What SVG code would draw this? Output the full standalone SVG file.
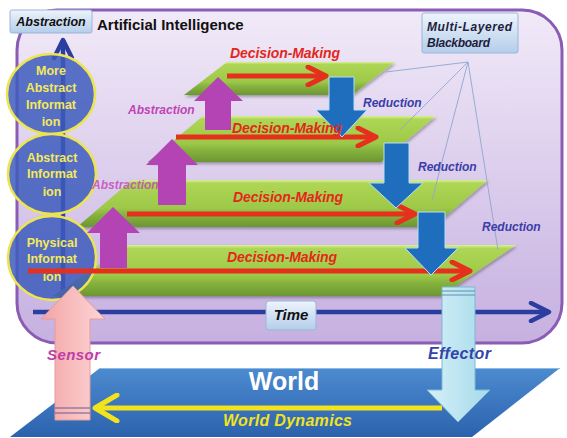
<svg xmlns="http://www.w3.org/2000/svg" width="567" height="438" viewBox="0 0 567 438">
  <defs>
    <linearGradient id="gFrame" x1="0" y1="0" x2="0" y2="1">
      <stop offset="0" stop-color="#f1eaf8"/>
      <stop offset="1" stop-color="#c6b0e0"/>
    </linearGradient>
    <linearGradient id="gLayer" x1="0" y1="0" x2="0" y2="1">
      <stop offset="0" stop-color="#dcf096"/>
      <stop offset="0.07" stop-color="#aed655"/>
      <stop offset="0.6" stop-color="#9dc848"/>
      <stop offset="0.74" stop-color="#86b33d"/>
      <stop offset="1" stop-color="#6b9632"/>
    </linearGradient>
    <linearGradient id="gLabel" x1="0" y1="0" x2="0" y2="1">
      <stop offset="0" stop-color="#eef4fc"/>
      <stop offset="1" stop-color="#b4cdea"/>
    </linearGradient>
    <linearGradient id="gWorld" x1="0" y1="0" x2="0" y2="1">
      <stop offset="0" stop-color="#4c8bd0"/>
      <stop offset="1" stop-color="#2c62ad"/>
    </linearGradient>
    <linearGradient id="gSensor" x1="0" y1="0" x2="1" y2="0">
      <stop offset="0" stop-color="#f4a4a6"/>
      <stop offset="1" stop-color="#fcd6d6"/>
    </linearGradient>
    <linearGradient id="gEffector" x1="0" y1="0" x2="1" y2="0">
      <stop offset="0" stop-color="#d4f0f8"/>
      <stop offset="1" stop-color="#a6daea"/>
    </linearGradient>
    <filter id="shadow" x="-5%" y="-10%" width="110%" height="130%">
      <feDropShadow dx="1" dy="2" stdDeviation="1.5" flood-color="#000" flood-opacity="0.3"/>
    </filter>
    <marker id="redHead" viewBox="0 0 24 22" refX="21" refY="11" markerWidth="24" markerHeight="22" markerUnits="userSpaceOnUse" orient="auto">
      <path d="M3,2 L21,11 L3,20" fill="none" stroke="#e5301d" stroke-width="5" stroke-linecap="round" stroke-linejoin="round"/>
    </marker>
    <marker id="axisHead" viewBox="0 0 24 22" refX="21" refY="11" markerWidth="24" markerHeight="22" markerUnits="userSpaceOnUse" orient="auto">
      <path d="M3,2 L21,11 L3,20" fill="none" stroke="#2b3ea0" stroke-width="4.5" stroke-linecap="round" stroke-linejoin="round"/>
    </marker>
    <marker id="yellowHead" viewBox="0 0 28 30" refX="25" refY="15" markerWidth="28" markerHeight="30" markerUnits="userSpaceOnUse" orient="auto">
      <path d="M3,2 L25,15 L3,28" fill="none" stroke="#f2e31c" stroke-width="5" stroke-linecap="round" stroke-linejoin="round"/>
    </marker>
  </defs>
  <style>
    text { font-family: "Liberation Sans", Arial, sans-serif; font-weight: bold; }
    .it { font-style: italic; }
    .layer { fill: url(#gLayer); filter: url(#shadow); }
    .circ { fill: #3d5cbc; fill-opacity: 0.85; stroke: #ece452; stroke-width: 2.5; }
    .ctext { fill: #f3e95a; font-size: 12.5px; text-anchor: middle; }
    .dm { fill: #e2281c; font-size: 14px; font-style: italic; text-anchor: middle; }
    .abs { fill: #c144b6; font-size: 12px; font-style: italic; }
    .red { fill: #3a3ea8; font-size: 12px; font-style: italic; }
    .flow { fill: none; stroke: #e5301d; stroke-width: 5; marker-end: url(#redHead); }
    .axis { fill: none; stroke: #2b3ea0; stroke-width: 4.5; marker-end: url(#axisHead); }
    .up { fill: #b443b4; }
    .down { fill: #1f6dbd; stroke: #b9def4; stroke-width: 1; }
    .bb { fill: none; stroke: #8ea6d0; stroke-width: 0.9; }
    .box { fill: url(#gLabel); stroke: #9bb5d8; stroke-width: 1; }
  </style>

  <!-- AI frame -->
  <g id="ai-frame">
    <rect x="17" y="10" width="545" height="333" rx="40" fill="url(#gFrame)" stroke="#8a5cb4" stroke-width="3"/>
    <text x="97" y="30" font-size="15" fill="#111">Artificial Intelligence</text>
  </g>

  <!-- axes -->
  <g id="axes">
    <path class="axis" d="M33,312 H549"/>
    <path class="axis" d="M63,312 V40"/>
  </g>

  <!-- blackboard layers -->
  <g id="layer-1"><polygon class="layer" points="227,62 395,62 352,95 184,95"/></g>
  <g id="layer-2"><polygon class="layer" points="203,116 436,116 381,162 148,162"/></g>
  <g id="layer-3"><polygon class="layer" points="132,180 488,180 433,227 77,227"/></g>
  <g id="layer-4"><polygon class="layer" points="128,245 516,245 441,296 53,296"/></g>

  <!-- information levels -->
  <g id="info-more-abstract">
    <ellipse class="circ" cx="51" cy="94" rx="44" ry="40"/>
    <text class="ctext" x="51" y="75">More</text>
    <text class="ctext" x="51" y="92">Abstract</text>
    <text class="ctext" x="51" y="109">Informat</text>
    <text class="ctext" x="51" y="126">ion</text>
  </g>
  <g id="info-abstract">
    <ellipse class="circ" cx="52" cy="174" rx="44" ry="40"/>
    <text class="ctext" x="52" y="162">Abstract</text>
    <text class="ctext" x="52" y="178">Informat</text>
    <text class="ctext" x="52" y="196">ion</text>
  </g>
  <g id="info-physical">
    <ellipse class="circ" cx="52" cy="258" rx="44" ry="42"/>
    <text class="ctext" x="52" y="247">Physical</text>
    <text class="ctext" x="52" y="263">Informat</text>
    <text class="ctext" x="52" y="281">ion</text>
  </g>

  <!-- connectors -->
  <g id="connectors">
    <!-- blackboard leader lines -->
    <path class="bb" d="M468,62 L386,72 M468,62 L400,130 M468,62 L432,200 M468,62 L498,250"/>
    <!-- decision-making flows -->
    <path class="flow" d="M227,76 H326"/>
    <path class="flow" d="M176,137 H376"/>
    <path class="flow" d="M127,214 H415"/>
    <path class="flow" d="M28,271 H470"/>
    <!-- abstraction arrows -->
    <polygon class="up" points="218,77 243,101 231,101 231,130 205,130 205,101 194,101"/>
    <polygon class="up" points="172,139 198,165 186,165 186,205 158,205 158,165 146,165"/>
    <polygon class="up" points="113,207 140,233 127,233 127,268 100,268 100,233 87,233"/>
    <!-- reduction arrows -->
    <polygon class="down" points="329,77 354,77 354,110 367,110 342,137 316,110 329,110"/>
    <polygon class="down" points="384,143 409,143 409,183 423,183 396,208 369,183 384,183"/>
    <polygon class="down" points="418,212 445,212 445,248 458,248 431,275 405,248 418,248"/>
  </g>

  <!-- labels on layers -->
  <g id="layer-labels">
    <text class="dm" x="285" y="58" textLength="110">Decision-Making</text>
    <text class="dm" x="287" y="133" textLength="110">Decision-Making</text>
    <text class="dm" x="288" y="202" textLength="110">Decision-Making</text>
    <text class="dm" x="282" y="262" textLength="110">Decision-Making</text>
    <text class="abs" x="128" y="114">Abstraction</text>
    <text class="abs" x="92" y="189" fill-opacity="0.8">Abstraction</text>
    <text class="red" x="363" y="107">Reduction</text>
    <text class="red" x="418" y="171">Reduction</text>
    <text class="red" x="482" y="231">Reduction</text>
  </g>

  <g id="abstraction-label">
    <rect class="box" x="10" y="10" width="82" height="23" rx="2"/>
    <text class="it" x="51" y="26" font-size="12.5" fill="#111" text-anchor="middle">Abstraction</text>
  </g>

  <g id="blackboard-label">
    <rect class="box" x="422" y="13" width="96" height="40" rx="2"/>
    <text class="it" x="427" y="31" font-size="12" fill="#1e1e3c" textLength="85">Multi-Layered</text>
    <text class="it" x="427" y="47" font-size="12" fill="#1e1e3c" textLength="63">Blackboard</text>
  </g>

  <g id="time-label">
    <rect class="box" x="266" y="301" width="50" height="29" rx="3"/>
    <text class="it" x="291" y="320" font-size="15" fill="#111" text-anchor="middle">Time</text>
  </g>

  <!-- world -->
  <g id="world">
    <polygon points="100,368 560,368 472,437 10,437" fill="url(#gWorld)"/>
    <path d="M100,368.5 H560" stroke="#8cbbe9" stroke-width="1"/>
    <text x="284" y="390" font-size="25" fill="#fff" text-anchor="middle">World</text>
    <path d="M442,408 H95" fill="none" stroke="#f2e31c" stroke-width="5" marker-end="url(#yellowHead)"/>
    <text class="it" x="223" y="426" font-size="16" fill="#f2e31c" textLength="129">World Dynamics</text>
  </g>

  <!-- sensor -->
  <g id="sensor">
    <polygon points="73,286 105,319 90,319 90,420 55,420 55,319 41,319" fill="url(#gSensor)" stroke="#e79a9c" stroke-width="1"/>
    <path d="M55,408 H90 M55,413 H90" stroke="#6b5a92" stroke-width="1.2"/>
    <text class="it" x="47" y="360" font-size="15" fill="#c03ca8" textLength="53">Sensor</text>
  </g>

  <!-- effector -->
  <g id="effector">
    <polygon points="442,287 475,287 475,390 490,390 458,422 427,390 442,390" fill="url(#gEffector)" stroke="#7db9d2" stroke-width="1"/>
    <path d="M442,291 H475 M442,295 H475" stroke="#5d8fb0" stroke-width="1.2"/>
    <text class="it" x="428" y="359" font-size="16" fill="#3444a8" textLength="63">Effector</text>
  </g>
</svg>
